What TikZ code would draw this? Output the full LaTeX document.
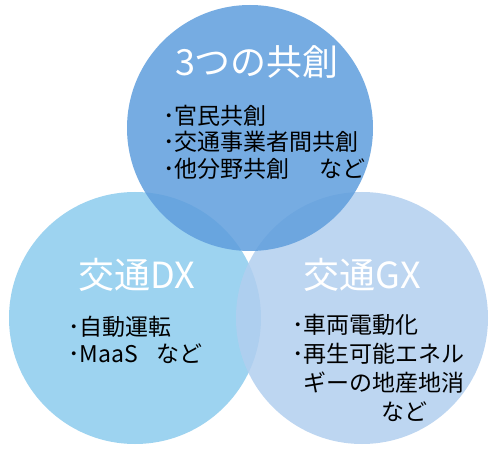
\documentclass[tikz,border=0pt]{standalone}
\usepackage{fontspec}
\setmainfont{Noto Sans CJK JP}
\definecolor{cL}{HTML}{9DD3F0}
\definecolor{cR}{HTML}{B2CFEF}
\definecolor{cT}{HTML}{5F9EDD}
\begin{document}
\begin{tikzpicture}[x=1pt,y=-1pt,
  title/.style={text=white,font=\fontsize{36}{40}\selectfont,inner sep=0pt},
  body/.style={text=black,font=\fontsize{23}{26.5}\selectfont,align=left,inner sep=0pt,anchor=west}]
\useasboundingbox (0,0) rectangle (491,452);
\fill[white] (0,0) rectangle (491,452);
\fill[cL] (135,318) circle (126);
\fill[cR,opacity=0.85] (362,318) circle (126);
\fill[cT,opacity=0.85] (250,128) circle (123);
\node[title] (t1) at (257,62) {3つの共創};
\node[body] (b1) at (163,142) {･官民共創\\･交通事業者間共創\\･他分野共創\hspace{1.3em}など};
\node[title] (t2) at (137,275) {交通DX};
\node[body] (b2) at (68,340) {･自動運転\\･MaaS\hspace{0.8em}など};
\node[title] (t3) at (362,275) {交通GX};
\node[body,font=\fontsize{23}{29}\selectfont] (b3) at (292,368) {･車両電動化\\･再生可能エネル\\\hspace{0.5em}ギーの地産地消\\\hspace{3.9em}など};
\end{tikzpicture}
\end{document}
